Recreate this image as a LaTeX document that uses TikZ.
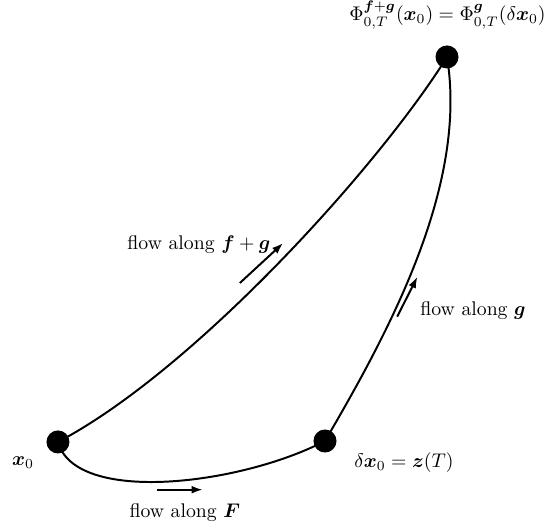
\documentclass[tikz,border=0pt]{standalone}
\usepackage{amsmath}
\usepackage{bm}
\usetikzlibrary{arrows.meta}

\tikzset{
  dot/.style={circle, fill=black, inner sep=0pt, minimum size=0.41cm},
  flowline/.style={line width=1pt},
  flowarrow/.style={line width=1pt, -{Latex[length=2mm,width=1.4mm]}}
}

\begin{document}
\begin{tikzpicture}
  \useasboundingbox (0,0) rectangle (9.915,9.327);
  % the three states
  \node[dot] (x0) at (1.032,1.460) {};
  \node[dot] (dx0) at (5.785,1.477) {};
  \node[dot] (xT) at (7.957,8.313) {};
  % trajectories
  \draw[flowline] (x0.center) .. controls (3.47,2.74) and (6.76,6.39) .. (xT.center);
  \draw[flowline] (x0.center) .. controls (1.34,0.34) and (4.27,0.69) .. (dx0.center);
  \draw[flowline] (dx0.center) .. controls (6.94,3.45) and (8.33,6.03) .. (xT.center);
  % direction arrows
  \coordinate (fgA) at (4.27,4.29);
  \coordinate (fgB) at (5.04,5.00);
  \coordinate (gA) at (7.07,3.69);
  \coordinate (gB) at (7.43,4.40);
  \coordinate (FA) at (2.80,0.61);
  \coordinate (FB) at (3.61,0.61);
  \draw[flowarrow] (fgA) -- (fgB);
  \draw[flowarrow] (gA) -- (gB);
  \draw[flowarrow] (FA) -- (FB);
  % labels
  \node (x0lab) at (0.41,1.09) {$\bm{x}_0$};
  \node (dx0lab) at (7.19,1.10) {$\delta\bm{x}_0 = \bm{z}(T)$};
  \node[anchor=west, inner xsep=0pt] (xTlab) at (6.21,9.06) {$\Phi^{\bm{f}+\bm{g}}_{0,T}(\bm{x}_0) = \Phi^{\bm{g}}_{0,T}(\delta\bm{x}_0)$};
  \node (Flab) at (3.29,0.20) {flow along $\bm{F}$};
  \node (fglab) at (3.54,4.97) {flow along $\bm{f}+\bm{g}$};
  \node (glab) at (8.42,3.79) {flow along $\bm{g}$};
\end{tikzpicture}
\end{document}
